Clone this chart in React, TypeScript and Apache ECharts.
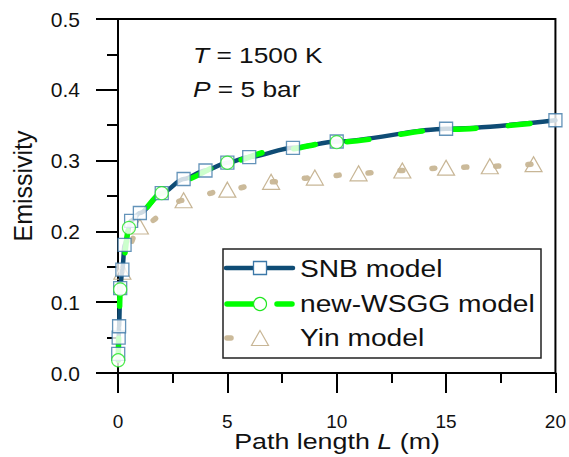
import React, { useEffect, useRef } from "react";
import * as echarts from "echarts";

// SNB model (squares)
const snbL = [0.01, 0.03, 0.05, 0.1, 0.2, 0.3, 0.6, 1, 2, 3, 4, 5, 6, 8, 10, 15, 20];
const snbE = [0.027, 0.05, 0.066, 0.12, 0.146, 0.181, 0.215, 0.226, 0.254, 0.274, 0.286, 0.297, 0.305, 0.318, 0.327, 0.345, 0.357];

// new-WSGG model (line points) and marker positions (circles)
const wsggL = [0.01, 0.05, 0.1, 0.2, 0.5, 1, 2, 3, 5, 7, 10, 15, 20];
const wsggE = [0.018, 0.07, 0.118, 0.15, 0.205, 0.227, 0.254, 0.273, 0.297, 0.313, 0.326, 0.344, 0.356];
const wsggMarkL = [0.01, 0.1, 0.5, 2, 5, 10];

// Yin model (triangles)
const yinL = [0.2, 1, 3, 5, 7, 9, 11, 13, 15, 17, 19];
const yinE = [0.143, 0.207, 0.244, 0.259, 0.27, 0.276, 0.282, 0.286, 0.29, 0.292, 0.295];

const xTicks = [0, 5, 10, 15, 20];
const yTicks = [0, 0.1, 0.2, 0.3, 0.4, 0.5];

const FONT = '"Liberation Sans", Arial, sans-serif';
const SNB_LINE = "#0f4c75";
const SNB_MARK = "#3c78a8";
const GREEN = "#00ff00";
const TAN = "#cbba9a";

export default function App() {
  const ref = useRef<HTMLDivElement>(null);
  useEffect(() => {
    document.body.style.margin = "0";
    if (!ref.current) return;
    const chart = echarts.init(ref.current, undefined, { renderer: "svg" });
    const pair = (xs: number[], ys: number[]) => xs.map((x, i) => [x, ys[i]]);
    const wsggMarks = wsggMarkL.map((l) => [l, wsggE[wsggL.indexOf(l)]]);

    const axisLine = { show: true, lineStyle: { color: "#000", width: 2 } };
    const italic = (size: number) => ({ i: { fontStyle: "italic", fontSize: size, fontFamily: FONT, fill: "#111" } });
    chart.setOption({
      animation: false,
      backgroundColor: "#fff",
      grid: {
        left: 118,
        right: 12,
        top: 19,
        bottom: 84,
        show: true,
        borderColor: "#000",
        borderWidth: 2,
        backgroundColor: "transparent",
      },
      xAxis: {
        type: "value",
        min: xTicks[0],
        max: xTicks[xTicks.length - 1],
        interval: 5,
        axisLine,
        axisTick: { show: true, inside: false, length: 20, lineStyle: { color: "#000", width: 2 } },
        minorTick: { show: true, splitNumber: 2, length: 10, lineStyle: { color: "#000", width: 2 } },
        splitLine: { show: false },
        axisLabel: { margin: 39, fontSize: 19, fontFamily: FONT, color: "#111" },
      },
      yAxis: {
        type: "value",
        min: yTicks[0],
        max: yTicks[yTicks.length - 1],
        interval: 0.1,
        axisLine,
        axisTick: { show: true, inside: false, length: 22, lineStyle: { color: "#000", width: 2 } },
        minorTick: { show: true, splitNumber: 2, length: 11, lineStyle: { color: "#000", width: 2 } },
        splitLine: { show: false },
        axisLabel: {
          margin: 38,
          fontSize: 21,
          fontFamily: FONT,
          color: "#111",
          formatter: (v: number) => v.toFixed(1),
        },
      },
      series: [
        {
          name: "Yin model",
          type: "line",
          data: pair(yinL, yinE),
          smooth: 0.3,
          smoothMonotone: "x",
          symbol: "triangle",
          symbolSize: [17, 15],
          itemStyle: { color: "rgba(255,255,255,0)", borderColor: "#c8b696", borderWidth: 1.2 },
          lineStyle: { color: TAN, width: 5.5, type: [3, 29], cap: "round" },
          z: 1,
          clip: false,
        },
        {
          name: "SNB line",
          type: "line",
          data: pair(snbL, snbE),
          smooth: 0.3,
          smoothMonotone: "x",
          symbol: "none",
          lineStyle: { color: SNB_LINE, width: 4.5, cap: "round" },
          z: 2,
        },
        {
          name: "WSGG line",
          type: "line",
          data: pair(wsggL, wsggE),
          smooth: 0.3,
          smoothMonotone: "x",
          symbol: "none",
          lineStyle: { color: GREEN, width: 5.5, type: [22, 32], cap: "round" },
          z: 3,
        },
        {
          name: "SNB model",
          type: "scatter",
          data: pair(snbL, snbE),
          symbol: "rect",
          symbolSize: 13,
          itemStyle: { color: "#fff", borderColor: SNB_MARK, borderWidth: 1.3 },
          z: 4,
          clip: false,
        },
        {
          name: "new-WSGG model",
          type: "scatter",
          data: wsggMarks,
          symbol: "circle",
          symbolSize: 13,
          itemStyle: { color: "#fff", borderColor: "#22e622", borderWidth: 1.2 },
          z: 5,
          clip: false,
        },
      ],
      graphic: [
        {
          type: "text",
          x: 193,
          y: 55.3,
          scaleX: 1.17,
          style: {
            text: "{i|T} = 1500 K",
            fontSize: 22.5,
            fontFamily: FONT,
            fill: "#111",
            verticalAlign: "middle",
            rich: italic(22.5),
          },
        },
        {
          type: "text",
          x: 193,
          y: 89,
          scaleX: 1.17,
          style: {
            text: "{i|P} = 5 bar",
            fontSize: 22.5,
            fontFamily: FONT,
            fill: "#111",
            verticalAlign: "middle",
            rich: italic(22.5),
          },
        },
        {
          type: "text",
          x: 337,
          y: 441,
          scaleX: 1.22,
          style: {
            text: "Path length {i|L} (m)",
            fontSize: 22,
            fontFamily: FONT,
            fill: "#111",
            align: "center",
            verticalAlign: "middle",
            rich: italic(22),
          },
        },
        {
          type: "text",
          x: 23,
          y: 186,
          rotation: Math.PI / 2,
          style: {
            text: "Emissivity",
            fontSize: 25,
            fontFamily: FONT,
            fill: "#111",
            align: "center",
            verticalAlign: "middle",
          },
        },
        {
          type: "group",
          z: 100,
          children: [
            {
              type: "rect",
              shape: { x: 223, y: 249, width: 318, height: 109 },
              style: { fill: "#fff", stroke: "#222", lineWidth: 1.5 },
            },
            {
              type: "line",
              shape: { x1: 226, y1: 268, x2: 293, y2: 268 },
              style: { stroke: SNB_LINE, lineWidth: 4.5, lineCap: "round" },
            },
            {
              type: "rect",
              shape: { x: 253.5, y: 261.5, width: 13, height: 13 },
              style: { fill: "#fff", stroke: SNB_MARK, lineWidth: 1.3 },
            },
            {
              type: "line",
              shape: { x1: 227, y1: 304, x2: 292, y2: 304 },
              style: { stroke: GREEN, lineWidth: 5.5, lineCap: "round", lineDash: [26, 24] },
            },
            {
              type: "circle",
              shape: { cx: 260, cy: 304, r: 6.5 },
              style: { fill: "#fff", stroke: "#22e622", lineWidth: 1.2 },
            },
            {
              type: "line",
              shape: { x1: 227, y1: 338, x2: 231, y2: 338 },
              style: { stroke: TAN, lineWidth: 5.5, lineCap: "round" },
            },
            {
              type: "polygon",
              shape: { points: [[260, 330.5], [268.5, 345.5], [251.5, 345.5]] },
              style: { fill: "none", stroke: "#c8b696", lineWidth: 1.2 },
            },
            {
              type: "text",
              x: 300,
              y: 268.5,
              scaleX: 1.15,
              style: { text: "SNB model", fontSize: 24.5, fontFamily: FONT, fill: "#111", verticalAlign: "middle" },
            },
            {
              type: "text",
              x: 300,
              y: 304,
              scaleX: 1.15,
              style: { text: "new-WSGG model", fontSize: 24.5, fontFamily: FONT, fill: "#111", verticalAlign: "middle" },
            },
            {
              type: "text",
              x: 300,
              y: 338,
              scaleX: 1.15,
              style: { text: "Yin model", fontSize: 24.5, fontFamily: FONT, fill: "#111", verticalAlign: "middle" },
            },
          ],
        },
      ],
    });
    return () => chart.dispose();
  }, []);
  return <div ref={ref} style={{ width: 569, height: 457 }} />;
}
